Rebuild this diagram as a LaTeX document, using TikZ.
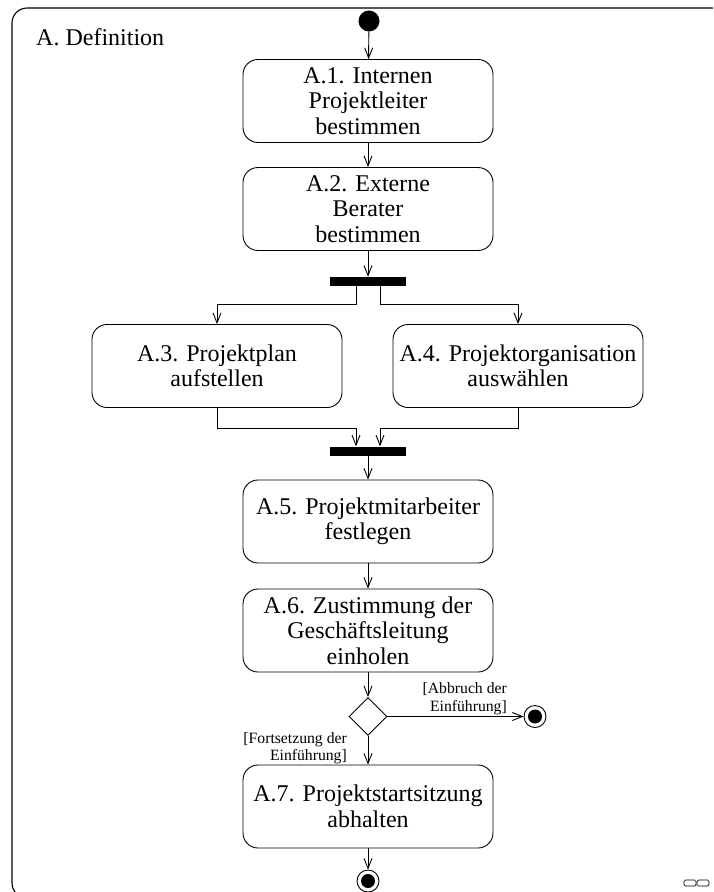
\documentclass[tikz,border=0pt]{standalone}
\usepackage{fontspec}
\setmainfont{Liberation Serif}
\usetikzlibrary{arrows.meta,shapes.geometric,calc}

\tikzset{
  activity/.style={draw, line width=0.9pt, rounded corners=15pt,
    minimum width=250pt, minimum height=83pt, inner sep=0pt, align=center,
    font=\fontsize{24}{25.5}\selectfont},
  syncbar/.style={fill=black, draw=none, minimum width=76pt, minimum height=9pt, inner sep=0pt},
  flow/.style={draw, line width=0.9pt, -{Straight Barb[length=10pt,width=8pt,line width=0.9pt]}},
  guard/.style={align=right, inner sep=0pt, font=\fontsize{15.7}{17.5}\selectfont},
  startdot/.style={circle, fill=black, minimum size=21pt, inner sep=0pt},
  enddot/.style={circle, draw, line width=0.9pt, minimum size=22pt, inner sep=0pt,
    path picture={\fill[black] (path picture bounding box.center) circle (7pt);}},
  decision/.style={diamond, draw, line width=0.9pt, aspect=1, minimum size=38pt, inner sep=0pt},
}

\begin{document}
\begin{tikzpicture}[x=1pt, y=-1pt]
  \useasboundingbox (0,0) rectangle (713,892);
  \clip (0,0) rectangle (713,892);

  % swimlane frame
  \draw[line width=1.1pt, rounded corners=15pt] (12,8) rectangle (727,898);
  \node[anchor=west, inner sep=0pt, font=\fontsize{24}{25.5}\selectfont] (lane) at (36,37) {A. Definition};

  % nodes
  \node[startdot] (start) at (369,21) {};
  \node[activity] (a1) at (368,101) {A.1. Internen\\Projektleiter\\bestimmen};
  \node[activity] (a2) at (368,209) {A.2. Externe\\Berater\\bestimmen};
  \node[syncbar] (fork) at (368,281.5) {};
  \node[activity] (a3) at (217,366) {A.3. Projektplan\\aufstellen};
  \node[activity] (a4) at (518,366) {A.4. Projektorganisation\\auswählen};
  \node[syncbar] (join) at (368,451) {};
  \node[activity] (a5) at (368,521.5) {A.5. Projektmitarbeiter\\festlegen};
  \node[activity] (a6) at (368,630.5) {A.6. Zustimmung der\\Geschäftsleitung\\einholen};
  \node[decision] (dec) at (368,716.5) {};
  \node[activity] (a7) at (368,806.5) {A.7. Projektstartsitzung\\abhalten};
  \node[enddot] (stopA) at (535,716.5) {};
  \node[enddot] (stopB) at (368,881) {};

  % guards
  \node[guard, anchor=east] (gAbort) at (507,698.5) {[Abbruch der\\Einführung]};
  \node[guard, anchor=east] (gGo) at (347,748) {[Fortsetzung der\\Einführung]};

  % connectors
  \draw[flow] (start) -- (a1);
  \draw[flow] (a1) -- (a2);
  \draw[flow] (a2) -- (fork);
  \draw[flow] ([xshift=-12pt]fork.south) -- ++(0,18) -| (a3.north);
  \draw[flow] ([xshift=12pt]fork.south) -- ++(0,18) -| (a4.north);
  \draw[flow] (a3.south) -- ++(0,20) -| ([xshift=-12pt]join.north);
  \draw[flow] (a4.south) -- ++(0,20) -| ([xshift=12pt]join.north);
  \draw[flow] (join) -- (a5);
  \draw[flow] (a5) -- (a6);
  \draw[flow] (a6) -- (dec);
  \draw[flow] (dec.east) -- (stopA);
  \draw[flow] (dec) -- (a7);
  \draw[flow] (a7) -- (stopB);

  % collapse icon
  \draw[line width=0.7pt, rounded corners=1.5pt] (684,880) rectangle (696,886);
  \draw[line width=0.7pt, rounded corners=1.5pt] (697,880) rectangle (709,886);
\end{tikzpicture}
\end{document}
